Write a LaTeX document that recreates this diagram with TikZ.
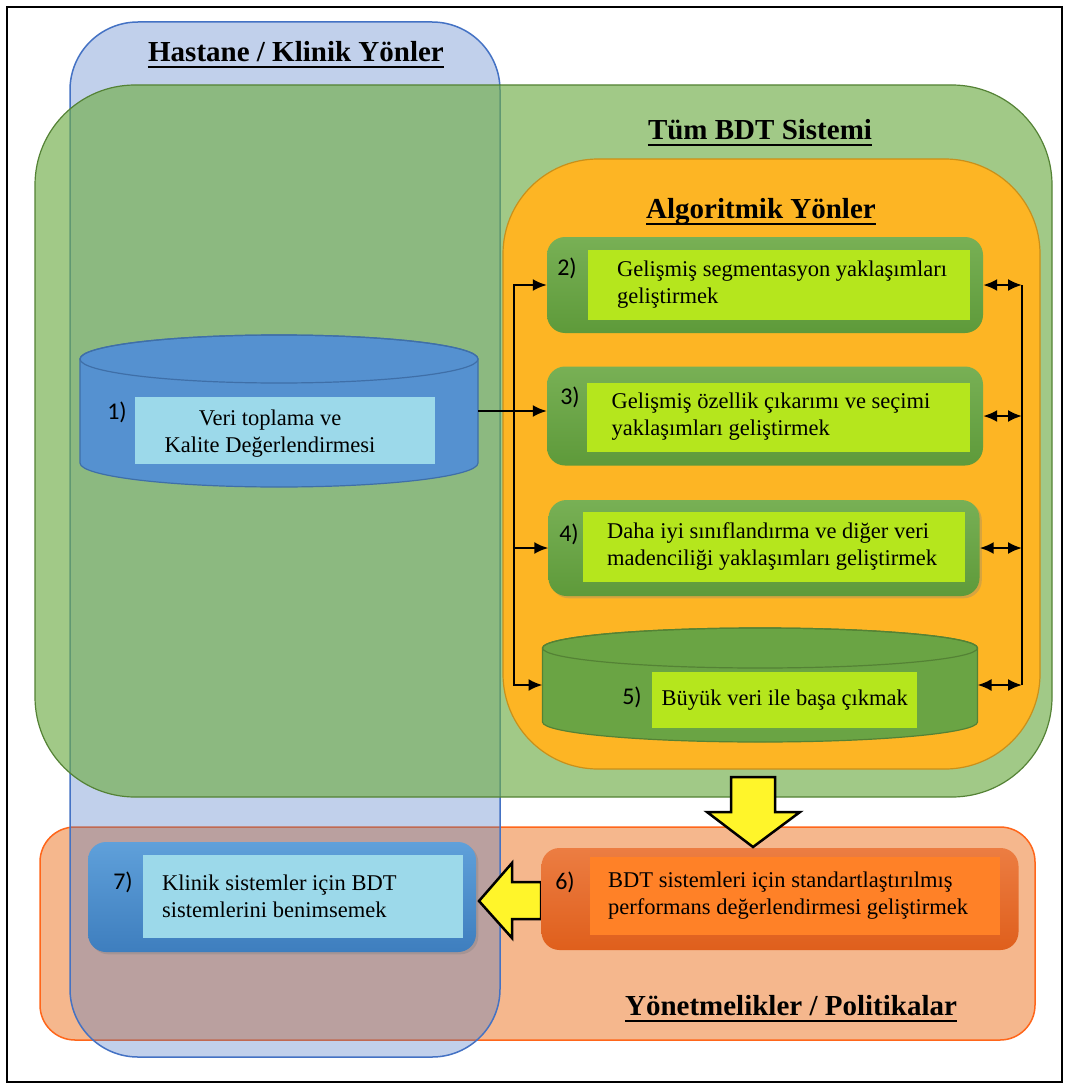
\documentclass[tikz,border=0pt]{standalone}
\usepackage{fontspec}
\setmainfont{Liberation Serif}
\newfontfamily\numfont{Carlito}
\usetikzlibrary{positioning, shadows, arrows.meta}

\definecolor{hospblue}{HTML}{4472C4}
\definecolor{sysgreen}{HTML}{70AD47}
\definecolor{sysedge}{HTML}{548235}
\definecolor{algorange}{HTML}{FDB524}
\definecolor{algedge}{HTML}{C9901A}
\definecolor{polsalmon}{HTML}{ED7D31}
\definecolor{poledge}{HTML}{FF661A}
\definecolor{boxgreen}{HTML}{78B055}
\definecolor{boxgreendk}{HTML}{5E9A3A}
\definecolor{cylgreen}{HTML}{6AA444}
\definecolor{lime}{HTML}{B5E61D}
\definecolor{dbblue}{HTML}{5591D0}
\definecolor{dbedge}{HTML}{3F6FA8}
\definecolor{paleblue}{HTML}{9CD9EA}
\definecolor{boxblue}{HTML}{5FA0DA}
\definecolor{boxbluedk}{HTML}{3E7EBE}
\definecolor{boxorange}{HTML}{EC7D42}
\definecolor{boxorangedk}{HTML}{DF5F1C}
\definecolor{innerorange}{HTML}{FF8127}
\definecolor{arrowyellow}{HTML}{FFF52A}

\begin{document}
\begin{tikzpicture}[x=1pt, y=-1pt,
    font=\fontsize{22.5}{27}\selectfont,
    heading/.style={font=\fontsize{29}{34}\selectfont\bfseries, inner sep=0pt},
    numlbl/.style={font=\fontsize{24}{28}\selectfont\numfont, inner sep=0pt},
    algbox/.style={rounded corners=18pt, top color=boxgreen, bottom color=boxgreendk},
    holder/.style={inner sep=0pt, outer sep=0pt},
    panel/.style={inner sep=0pt, outer sep=0pt},
    txt/.style={inner sep=0pt, align=left, anchor=west},
    bigarrow/.style={draw=black, line width=2.5pt, fill=arrowyellow, line join=miter},
    link/.style={line width=2.2pt, >={Latex[length=14pt, width=12pt]}}]

    % page and frame
    \fill[white] (0,0) rectangle (1067,1086);
    \useasboundingbox (0,0) rectangle (1067,1086);
    \draw[line width=2.5pt] (7,7) rectangle (1062,1082);

    % the four regions
    \draw[draw=poledge, line width=1.5pt, fill=polsalmon, fill opacity=0.55,
          rounded corners=35pt] (40,827) rectangle (1035,1040);
    \draw[draw=hospblue, line width=1.5pt, fill=hospblue, fill opacity=0.33,
          rounded corners=68pt] (70,22) rectangle (500,1057);
    \draw[draw=sysedge, line width=1.2pt, fill=sysgreen, fill opacity=0.65,
          rounded corners=100pt] (35,85) rectangle (1052,797);
    \draw[draw=algedge, line width=1.2pt, fill=algorange,
          rounded corners=95pt] (503,159) rectangle (1040,769);

    % titles
    \node[heading] (hosp) at (296,52) {Hastane / Klinik Yönler};
    \node[heading] (syst) at (760,130) {Tüm BDT Sistemi};
    \node[heading] (algt) at (761,212) {Algoritmik Yönler};
    \node[heading] (polt) at (791,1006) {Yönetmelikler / Politikalar};
    \foreach \h in {hosp,syst,algt,polt}
        \draw[line width=2.2pt] ([yshift=-5pt]\h.base west) -- ([yshift=-5pt]\h.base east);

    % 1) data collection
    \node[holder, minimum width=398pt, minimum height=152pt] (db1) at (279,411) {};
    \filldraw[draw=dbedge, fill=dbblue, line width=1.2pt]
        ([yshift=-24pt]db1.north west) -- ([yshift=24pt]db1.south west)
        arc[start angle=180, end angle=360, x radius=199pt, y radius=24pt]
        -- ([yshift=-24pt]db1.north east)
        arc[start angle=0, end angle=180, x radius=199pt, y radius=24pt] -- cycle;
    \draw[draw=dbedge, line width=1.2pt] ([yshift=-24pt]db1.north)
        ellipse [x radius=199pt, y radius=24pt];
    \node[panel, fill=paleblue, minimum width=300pt, minimum height=67pt] (p1) at (285,430) {};
    \node[inner sep=0pt, align=center] (t1) at (270,434)
        {Veri toplama ve\\Kalite Değerlendirmesi};

    % 2)-4) algorithmic boxes
    \node[algbox, minimum width=436pt, minimum height=96pt] (b2) at (765,285) {};
    \node[panel, fill=lime, minimum width=382pt, minimum height=70pt] (p2) at (779,285) {};
    \node[txt, right=29pt of p2.west] (t2)
        {Gelişmiş segmentasyon yaklaşımları\\geliştirmek};

    \node[algbox, minimum width=436pt, minimum height=99pt] (b3) at (765,416) {};
    \node[panel, fill=lime, minimum width=383pt, minimum height=69pt] (p3) at (778,417) {};
    \node[txt, right=25pt of p3.west] (t3)
        {Gelişmiş özellik çıkarımı ve seçimi\\yaklaşımları geliştirmek};

    \node[algbox, drop shadow={opacity=0.3}, minimum width=431pt, minimum height=96pt] (b4) at (764,548) {};
    \node[panel, fill=lime, minimum width=382pt, minimum height=70pt] (p4) at (774,547) {};
    \node[txt, right=24pt of p4.west] (t4)
        {Daha iyi sınıflandırma ve diğer veri\\madenciliği yaklaşımları geliştirmek};

    % 5) big data
    \node[holder, minimum width=435pt, minimum height=114pt] (c5) at (760,685) {};
    \filldraw[draw=sysedge, fill=cylgreen, line width=1.2pt]
        ([yshift=-20pt]c5.north west) -- ([yshift=20pt]c5.south west)
        arc[start angle=180, end angle=360, x radius=217.5pt, y radius=20pt]
        -- ([yshift=-20pt]c5.north east)
        arc[start angle=0, end angle=180, x radius=217.5pt, y radius=20pt] -- cycle;
    \draw[draw=sysedge, line width=1.2pt] ([yshift=-20pt]c5.north)
        ellipse [x radius=217.5pt, y radius=20pt];
    \node[panel, fill=lime, minimum width=265pt, minimum height=56pt] (p5) at (784,700) {};
    \node[txt, right=10pt of p5.west] (t5) {Büyük veri ile başa çıkmak};

    % 7) clinical adoption
    \node[rounded corners=18pt, top color=boxblue, bottom color=boxbluedk,
          drop shadow={opacity=0.35}, minimum width=388pt, minimum height=110pt] (b7) at (282,897) {};
    \node[panel, fill=paleblue, minimum width=320pt, minimum height=83pt] (p7) at (303,896) {};
    \node[txt, right=19pt of p7.west] (t7)
        {Klinik sistemler için BDT\\sistemlerini benimsemek};

    % 6) standard evaluation
    \draw[bigarrow] (541,882) -- (512,882) -- (512,863) -- (479,901) -- (512,938)
        -- (512,919) -- (541,919) -- cycle;
    \node[rounded corners=18pt, top color=boxorange, bottom color=boxorangedk,
          minimum width=477pt, minimum height=102pt] (b6) at (780,899) {};
    \node[panel, fill=innerorange, minimum width=410pt, minimum height=78pt] (p6) at (795,896) {};
    \node[txt, right=18pt of p6.west] (t6)
        {BDT sistemleri için standartlaştırılmış\\performans değerlendirmesi geliştirmek};

    % big arrow down
    \draw[bigarrow] (731,777) -- (775,777) -- (775,812) -- (800,812) -- (753,847)
        -- (707,812) -- (731,812) -- cycle;

    % numbers
    \foreach \n/\x/\y in {1/117/412, 2/567/268, 3/570/397, 4/569/534,
                          5/632/697, 6/565/882, 7/123/882}
        \node[numlbl] (n\n) at (\x,\y) {\n)};

    % connectors
    \coordinate (busL) at (514,685);
    \coordinate (busR) at (1022,685);
    \draw[link, ->] (db1.east) -- (db1.east -| b3.west);
    \draw[link, <->] (b2.west) -| (busL) -- (c5.west);
    \draw[link, ->] (busL |- b4.west) -- (b4.west);
    \draw[link] (b2.east -| busR) -- (busR);
    \foreach \b in {b2,b3,b4,c5}
        \draw[link, <->] (\b.east) -- (\b.east -| busR);
\end{tikzpicture}
\end{document}
